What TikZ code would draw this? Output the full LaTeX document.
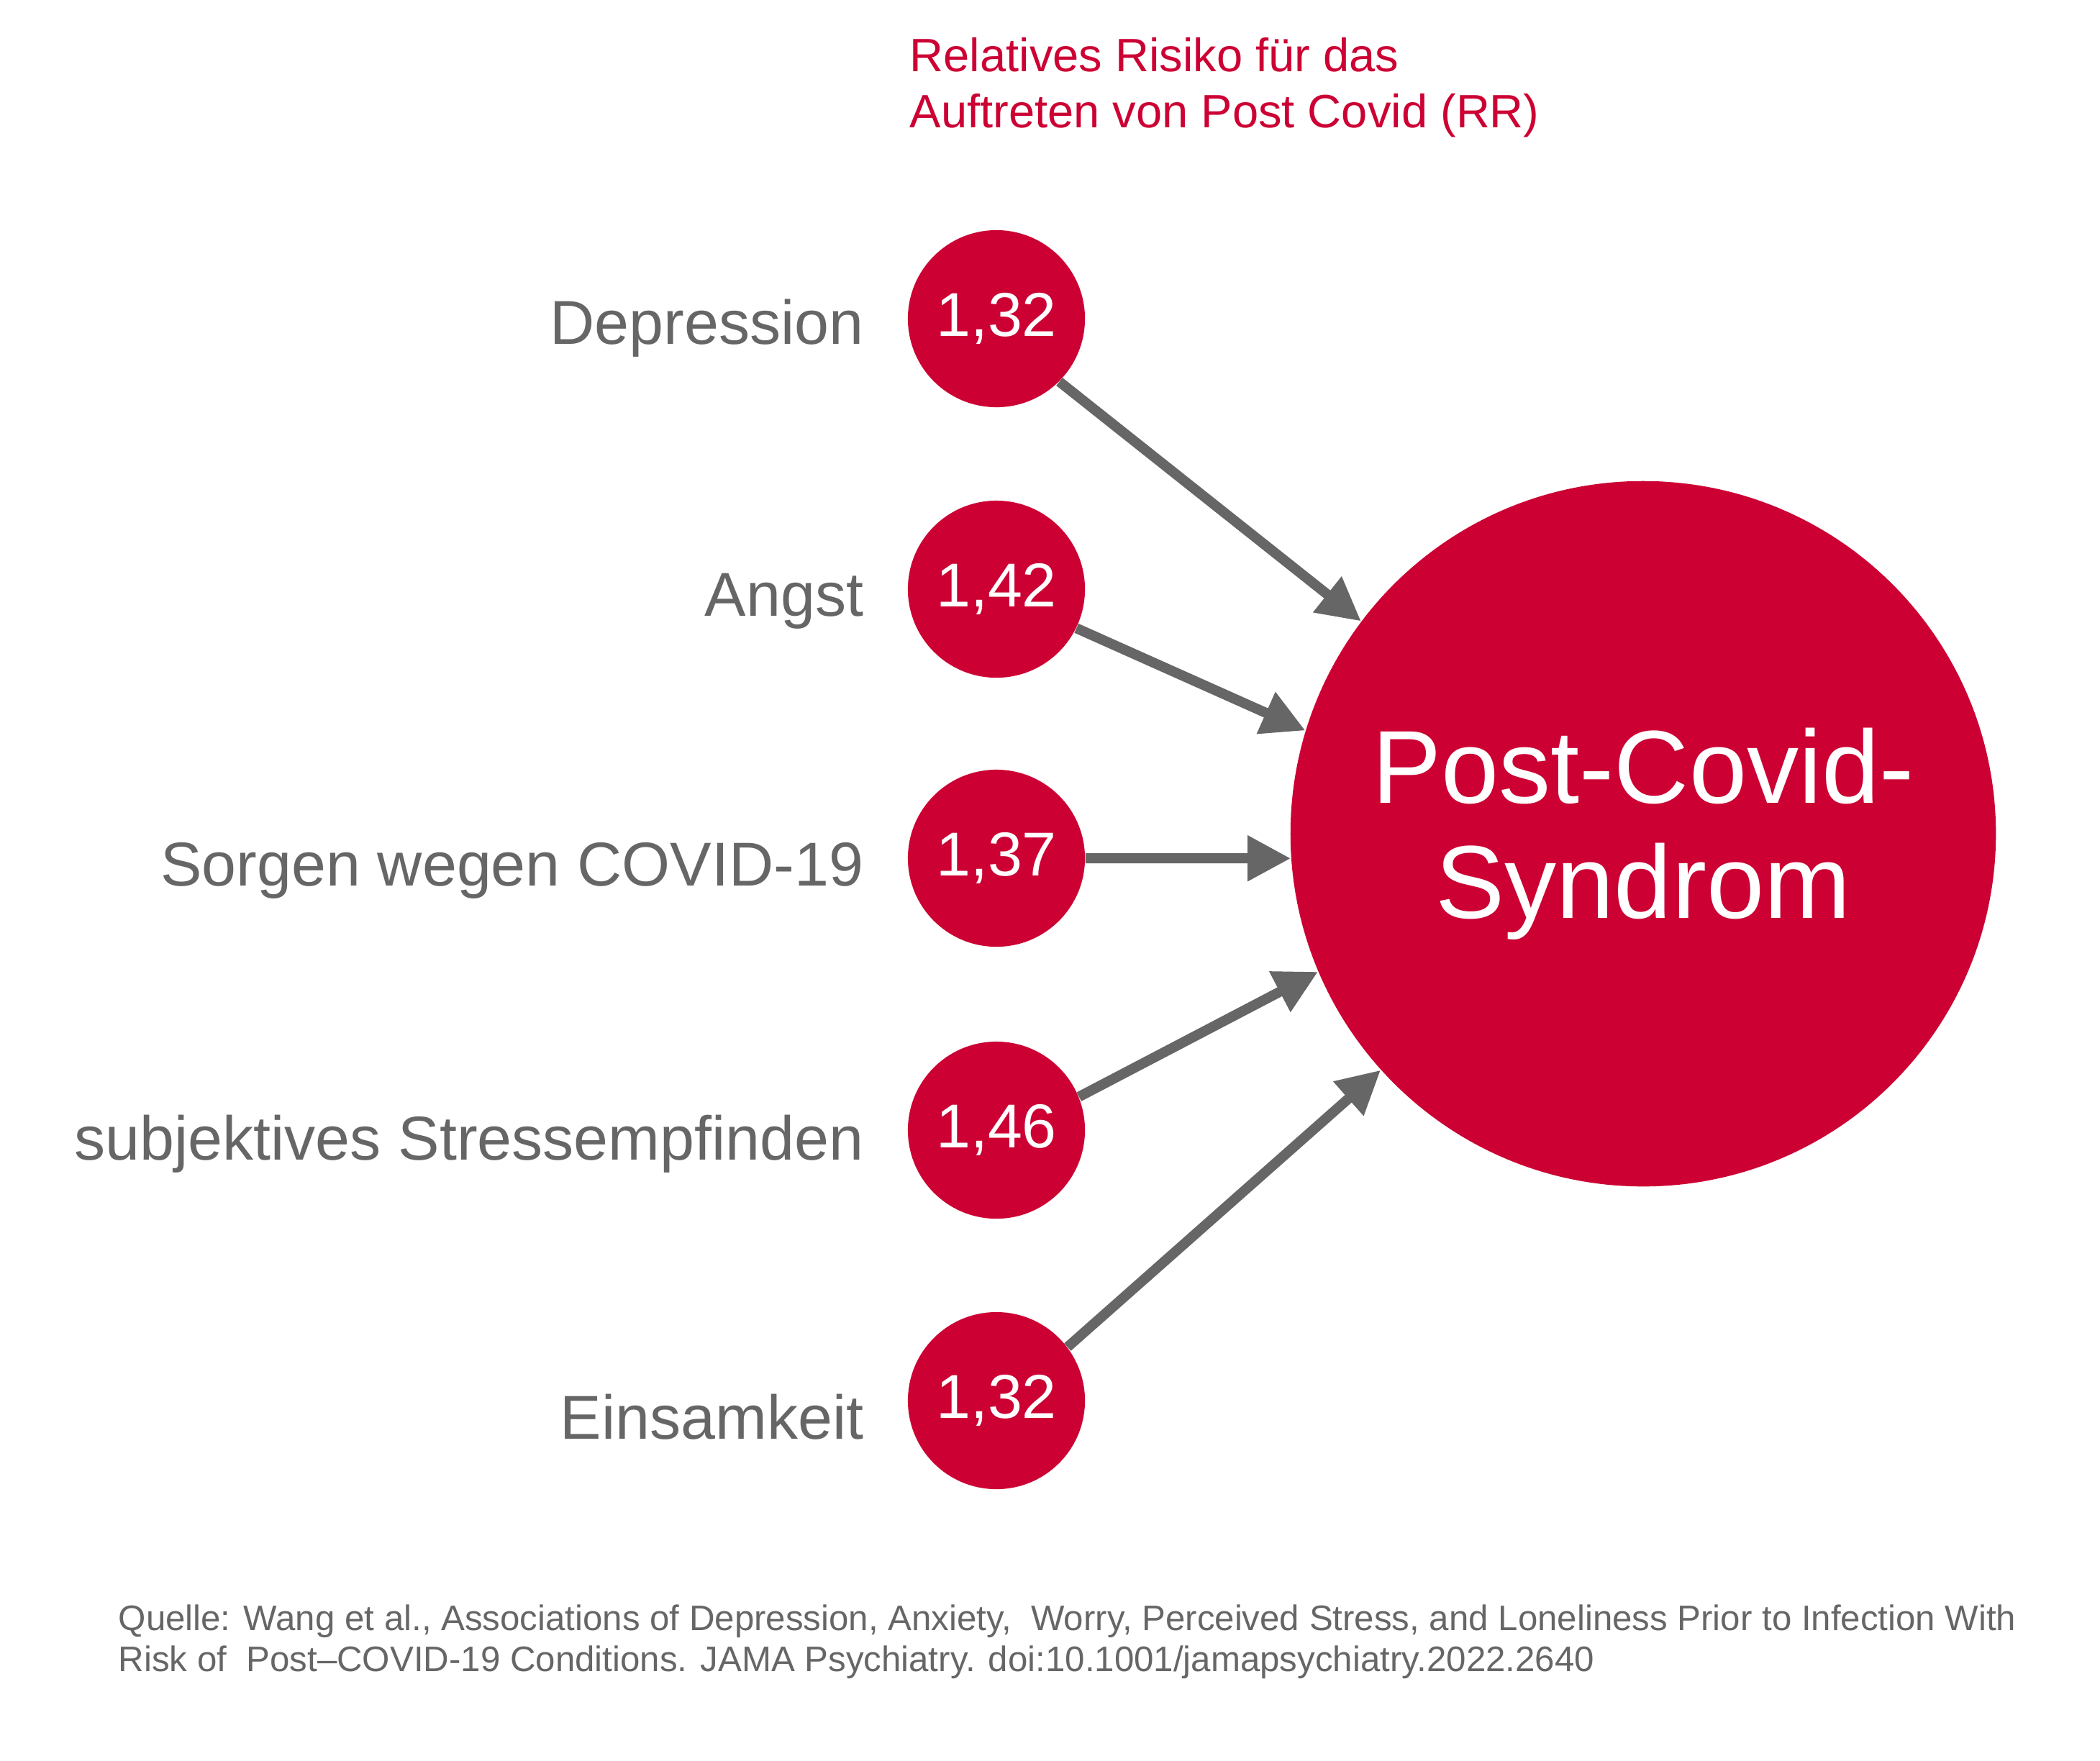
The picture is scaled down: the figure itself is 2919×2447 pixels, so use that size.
\documentclass[tikz,border=0pt]{standalone}
\usepackage{fontspec}
\setmainfont{Liberation Sans}
\usetikzlibrary{arrows.meta}
\definecolor{rkired}{RGB}{204,0,51}
\definecolor{rkigray}{RGB}{102,102,102}
\begin{document}
\begin{tikzpicture}[x=0.01cm,y=-0.01cm,
  small/.style={circle,fill=rkired,minimum size=2.46cm,inner sep=0pt,text=white,font=\fontsize{24.5}{28}\selectfont},
  big/.style={circle,fill=rkired,minimum size=9.8cm,inner sep=0pt,text=white,align=center,font=\fontsize{41}{45.5}\selectfont},
  lbl/.style={anchor=base east,text=rkigray,font=\fontsize{24.5}{30}\selectfont,inner sep=0pt},
  conn/.style={draw=rkigray,line width=0.14cm,-{Triangle[length=0.6cm,width=0.6cm]}}]
\useasboundingbox (0,0) rectangle (2919,2447);
\node[small] (s1) at (1385,443) {1,32};
\node[small] (s2) at (1385,819) {1,42};
\node[small] (s3) at (1385,1193) {1,37};
\node[small] (s4) at (1385,1571) {1,46};
\node[small] (s5) at (1385,1947) {1,32};
\node[big] (pc) at (2284,1159) {Post-Covid-\\Syndrom};
\node[lbl] (l1) at (1201,478) {Depression};
\node[lbl] (l2) at (1201,856) {Angst};
\node[lbl] (l3) at (1201,1231) {Sorgen wegen COVID-19};
\node[lbl] (l4) at (1201,1612) {subjektives Stressempfinden};
\node[lbl] (l5) at (1201,2000) {Einsamkeit};
\node[anchor=base west,inner sep=0pt,text=rkired,align=left,font=\fontsize{18.5}{22}\selectfont] (title) at (1264,177) {Relatives Risiko für das\\Auftreten von Post Covid (RR)};
\node[anchor=base west,inner sep=0pt,text=rkigray,align=left,font=\fontsize{14}{16}\selectfont] (src) at (164,2323) {Quelle: Wang et al., Associations of Depression, Anxiety,\ \ Worry, Perceived Stress, and Loneliness Prior to Infection With\\Risk of\ \ Post–COVID-19 Conditions. JAMA Psychiatry. doi:10.1001/jamapsychiatry.2022.2640};
\draw[conn] (s1.-45.6) -- (pc.143);
\draw[conn] (s2.-26.8) -- (pc.163.9);
\draw[conn] (s3.0) -- (pc.-176);
\draw[conn] (s4.22.7) -- (pc.-157.3);
\draw[conn] (s5.37.7) -- (pc.-138.1);
\end{tikzpicture}
\end{document}
